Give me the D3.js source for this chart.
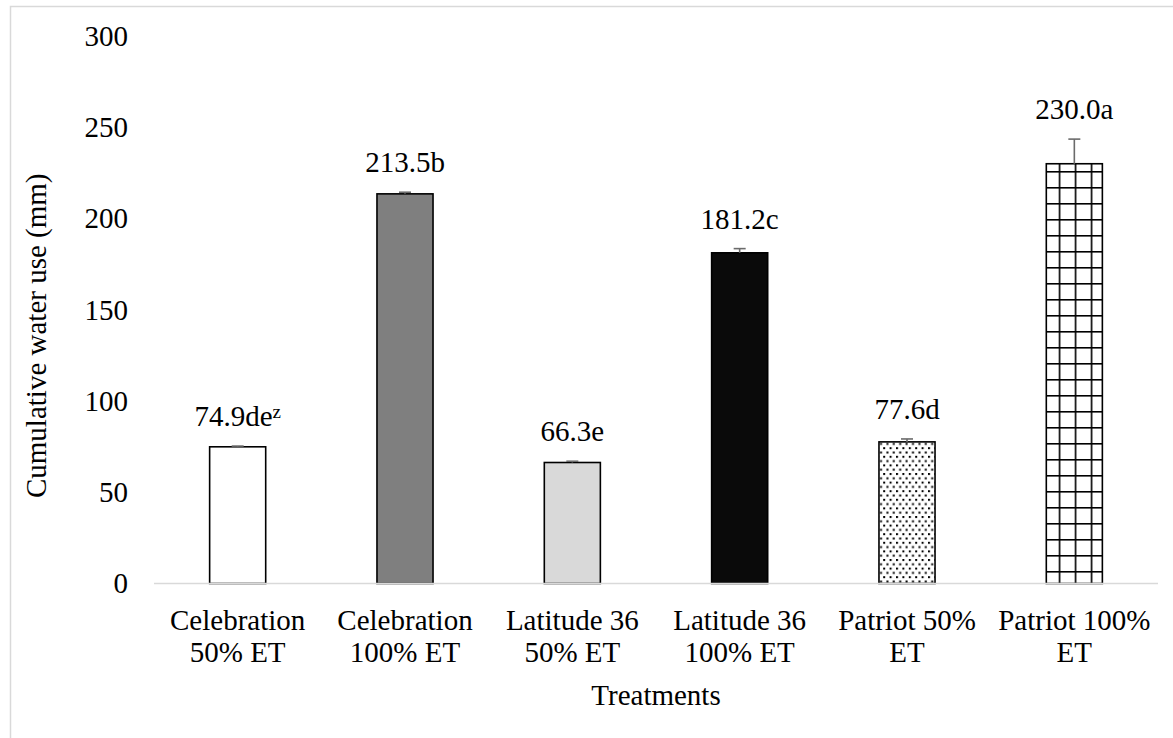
<!DOCTYPE html>
<html>
<head>
<meta charset="utf-8">
<script src="https://cdn.jsdelivr.net/npm/d3@7/dist/d3.min.js"></script>
</head>
<body style="margin:0;padding:0;background:#fff">
<svg id="chart" width="1173" height="738" style="display:block"></svg>
<script>
// Treatments (two-line category labels)
const categoryLines = [
  ["Celebration", "50% ET"],
  ["Celebration", "100% ET"],
  ["Latitude 36", "50% ET"],
  ["Latitude 36", "100% ET"],
  ["Patriot 50%", "ET"],
  ["Patriot 100%", "ET"]
];
// Cumulative water use (mm) and standard errors
const waterUse = [74.9, 213.5, 66.3, 181.2, 77.6, 230.0];
const stdErr   = [0.4, 0.9, 0.7, 2.3, 1.6, 13.5];
// Mean separation letters
const letters  = ["de", "b", "e", "c", "d", "a"];
const superscripts = ["z", "", "", "", "", ""];
const yTicks = [0, 50, 100, 150, 200, 250, 300];
const fills = ["#ffffff", "#7f7f7f", "#d9d9d9", "#0a0a0a", "url(#dots)", "url(#grid)"];

const FONT = "Liberation Serif";
const FS = 29;
const W = 1173, H = 738;
const margin = { left: 154, right: 15, top: 36, bottom: 154.5 };

const svg = d3.select("#chart");

function styleText(sel, size) {
  return sel.attr("font-family", FONT).attr("font-size", size || FS).attr("fill", "#000");
}

// Chart frame (light border)
svg.append("rect")
  .attr("x", 10.5).attr("y", 6.5)
  .attr("width", W + 20).attr("height", H + 20)
  .attr("fill", "#fff").attr("stroke", "#d9d9d9").attr("stroke-width", 1.5);

// Fill patterns
const defs = svg.append("defs");
const dots = defs.append("pattern")
  .attr("id", "dots").attr("patternUnits", "userSpaceOnUse")
  .attr("width", 6.4).attr("height", 8.6);
dots.append("rect").attr("width", 6.4).attr("height", 8.6).attr("fill", "#fff");
dots.append("rect").attr("x", 0).attr("y", 0).attr("width", 2).attr("height", 2).attr("fill", "#000");
dots.append("rect").attr("x", 3.2).attr("y", 4.3).attr("width", 2).attr("height", 2).attr("fill", "#000");

const grid = defs.append("pattern")
  .attr("id", "grid").attr("patternUnits", "userSpaceOnUse")
  .attr("x", 2.7).attr("y", 11)
  .attr("width", 16).attr("height", 16);
grid.append("rect").attr("width", 16).attr("height", 16).attr("fill", "#fff");
grid.append("rect").attr("x", 0).attr("y", 0).attr("width", 1.6).attr("height", 16).attr("fill", "#000");
grid.append("rect").attr("x", 0).attr("y", 0).attr("width", 16).attr("height", 1.6).attr("fill", "#000");

const x = d3.scaleBand()
  .domain(d3.range(waterUse.length))
  .range([margin.left, W - margin.right])
  .paddingInner(0.665).paddingOuter(0.3325);

const y = d3.scaleLinear()
  .domain([0, 300])
  .range([H - margin.bottom, margin.top]);

// Y tick labels (no axis line, no gridlines)
const yAxis = svg.append("g")
  .attr("transform", `translate(${margin.left},0)`)
  .call(d3.axisLeft(y).tickValues(yTicks).tickSize(0).tickPadding(26));
yAxis.attr("font-family", FONT).attr("font-size", FS);
yAxis.select(".domain").remove();
styleText(yAxis.selectAll("text"));

// Bars
svg.append("g").selectAll("rect")
  .data(waterUse)
  .join("rect")
  .attr("x", (d, i) => x(i))
  .attr("y", d => y(d))
  .attr("width", x.bandwidth())
  .attr("height", d => y(0) - y(d))
  .attr("fill", (d, i) => fills[i])
  .attr("stroke", "#000").attr("stroke-width", 1.6);

// Error bars (upper only)
const eb = svg.append("g").attr("stroke", "#6b6b6b").attr("stroke-width", 1.6);
waterUse.forEach((d, i) => {
  const cx = x(i) + x.bandwidth() / 2;
  eb.append("line").attr("x1", cx).attr("x2", cx).attr("y1", y(d)).attr("y2", y(d + stdErr[i]));
  eb.append("line").attr("x1", cx - 6).attr("x2", cx + 6)
    .attr("y1", y(d + stdErr[i])).attr("y2", y(d + stdErr[i]));
});

// X axis baseline
svg.append("line")
  .attr("x1", margin.left).attr("x2", W - margin.right)
  .attr("y1", y(0)).attr("y2", y(0))
  .attr("stroke", "#d9d9d9").attr("stroke-width", 1.5);

// Value labels with letters, placed above the error bars
waterUse.forEach((d, i) => {
  const t = styleText(svg.append("text"))
    .attr("x", x(i) + x.bandwidth() / 2)
    .attr("y", y(d + stdErr[i]) - 20)
    .attr("text-anchor", "middle");
  t.append("tspan").text(d.toFixed(1) + letters[i]);
  if (superscripts[i]) {
    t.append("tspan").attr("dy", "-0.4em").attr("font-size", 19).text(superscripts[i]);
  }
});

// Category labels
categoryLines.forEach((lines, i) => {
  const t = styleText(svg.append("text")).attr("text-anchor", "middle");
  lines.forEach((ln, k) => {
    t.append("tspan")
      .attr("x", x(i) + x.bandwidth() / 2)
      .attr("y", 630 + k * 32)
      .text(ln);
  });
});

// Axis titles
styleText(svg.append("text"))
  .attr("x", (margin.left + W - margin.right) / 2)
  .attr("y", 705)
  .attr("text-anchor", "middle")
  .text("Treatments");

styleText(svg.append("text"))
  .attr("transform", `translate(46,${(y(0) + y(300)) / 2 + 26}) rotate(-90)`)
  .attr("text-anchor", "middle")
  .text("Cumulative water use (mm)");
</script>
</body>
</html>
